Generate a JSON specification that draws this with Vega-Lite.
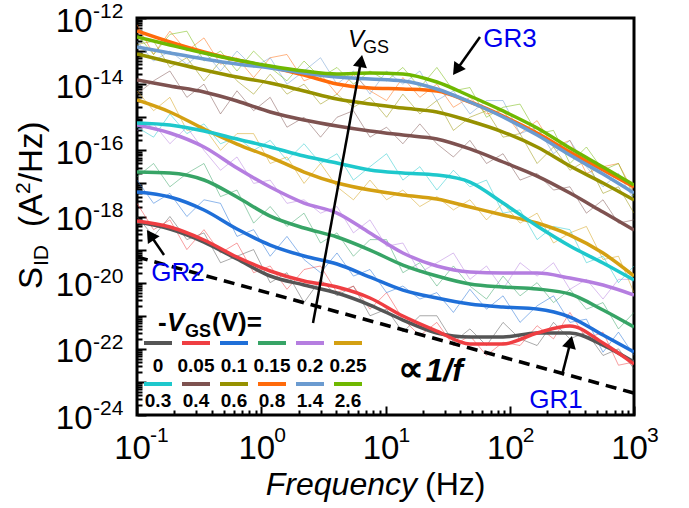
{
"$schema": "https://vega.github.io/schema/vega-lite/v6.json",
"width": 497, "height": 397,
"autosize": {"type": "none"},
"padding": {"left": 137, "top": 18, "right": 55, "bottom": 93},
"background": "white",
"config": {"view": {"stroke": "black", "strokeWidth": 3}, "font": "Liberation Sans"},
"resolve": {"axis": {"x": "independent", "y": "independent"}},
"datasets": {
"raw": [
{"V":"0","f":0.1,"S":1e-18},{"V":"0","f":0.136,"S":2.5e-19},{"V":"0","f":0.184,"S":1e-18},{"V":"0","f":0.252,"S":2e-19},{"V":"0","f":0.346,"S":3.2e-19},{"V":"0","f":0.47,"S":4e-20},{"V":"0","f":0.638,"S":6.3e-20},{"V":"0","f":0.868,"S":1e-19},{"V":"0","f":1.18,"S":1e-20},{"V":"0","f":1.61,"S":2e-20},{"V":"0","f":2.21,"S":2.5e-21},{"V":"0","f":3.0,"S":1.26e-20},{"V":"0","f":4.07,"S":4e-21},{"V":"0","f":5.52,"S":7.9e-21},{"V":"0","f":7.5,"S":1e-21},{"V":"0","f":10.2,"S":1.58e-21},{"V":"0","f":13.8,"S":3.2e-22},{"V":"0","f":18.9,"S":1e-21},{"V":"0","f":25.9,"S":1e-21},{"V":"0","f":35.2,"S":1.58e-22},{"V":"0","f":47.8,"S":4e-22},{"V":"0","f":65,"S":1.26e-22},{"V":"0","f":88.3,"S":6.3e-22},{"V":"0","f":121,"S":2e-22},{"V":"0","f":166,"S":1.26e-22},{"V":"0","f":225,"S":6.3e-22},{"V":"0","f":305,"S":2e-22},{"V":"0","f":414,"S":3.2e-22},{"V":"0","f":563,"S":6.3e-23},{"V":"0","f":750,"S":1e-22},{"V":"0","f":1000,"S":2.5e-23},
{"V":"0.05","f":0.1,"S":2.5e-18},{"V":"0.05","f":0.136,"S":4e-19},{"V":"0.05","f":0.184,"S":7.9e-19},{"V":"0.05","f":0.252,"S":1e-19},{"V":"0.05","f":0.346,"S":4e-19},{"V":"0.05","f":0.47,"S":7.9e-20},{"V":"0.05","f":0.638,"S":1.58e-19},{"V":"0.05","f":0.868,"S":2e-20},{"V":"0.05","f":1.18,"S":3.2e-20},{"V":"0.05","f":1.61,"S":6.3e-21},{"V":"0.05","f":2.21,"S":2.5e-20},{"V":"0.05","f":3.0,"S":3.2e-20},{"V":"0.05","f":4.07,"S":5e-21},{"V":"0.05","f":5.52,"S":7.9e-21},{"V":"0.05","f":7.5,"S":1.58e-21},{"V":"0.05","f":10.2,"S":5e-21},{"V":"0.05","f":13.8,"S":7.9e-22},{"V":"0.05","f":18.9,"S":2.5e-22},{"V":"0.05","f":25.9,"S":6.3e-22},{"V":"0.05","f":35.2,"S":1.26e-22},{"V":"0.05","f":47.8,"S":2.5e-22},{"V":"0.05","f":65,"S":6.3e-23},{"V":"0.05","f":88.3,"S":1.58e-22},{"V":"0.05","f":121,"S":1.26e-22},{"V":"0.05","f":166,"S":5e-22},{"V":"0.05","f":225,"S":2e-22},{"V":"0.05","f":305,"S":1.26e-21},{"V":"0.05","f":414,"S":2e-22},{"V":"0.05","f":563,"S":3.2e-22},{"V":"0.05","f":750,"S":3.2e-23},{"V":"0.05","f":1000,"S":4e-23},
{"V":"0.1","f":0.1,"S":1.26e-17},{"V":"0.1","f":0.136,"S":2.5e-18},{"V":"0.1","f":0.184,"S":5e-18},{"V":"0.1","f":0.252,"S":1e-18},{"V":"0.1","f":0.346,"S":3.2e-18},{"V":"0.1","f":0.47,"S":2.5e-18},{"V":"0.1","f":0.638,"S":2.5e-19},{"V":"0.1","f":0.868,"S":4e-19},{"V":"0.1","f":1.18,"S":6.3e-20},{"V":"0.1","f":1.61,"S":2.5e-19},{"V":"0.1","f":2.21,"S":5e-20},{"V":"0.1","f":3.0,"S":2e-20},{"V":"0.1","f":4.07,"S":7.9e-20},{"V":"0.1","f":5.52,"S":1.58e-20},{"V":"0.1","f":7.5,"S":2.5e-20},{"V":"0.1","f":10.2,"S":5e-21},{"V":"0.1","f":13.8,"S":7.9e-21},{"V":"0.1","f":18.9,"S":3.2e-21},{"V":"0.1","f":25.9,"S":5e-21},{"V":"0.1","f":35.2,"S":1.26e-21},{"V":"0.1","f":47.8,"S":6.3e-21},{"V":"0.1","f":65,"S":1.58e-21},{"V":"0.1","f":88.3,"S":4e-21},{"V":"0.1","f":121,"S":6.3e-22},{"V":"0.1","f":166,"S":2e-21},{"V":"0.1","f":225,"S":4e-21},{"V":"0.1","f":305,"S":6.3e-22},{"V":"0.1","f":414,"S":7.9e-22},{"V":"0.1","f":563,"S":7.9e-23},{"V":"0.1","f":750,"S":3.2e-22},{"V":"0.1","f":1000,"S":6.3e-23},
{"V":"0.15","f":0.1,"S":1.58e-17},{"V":"0.15","f":0.136,"S":4e-17},{"V":"0.15","f":0.184,"S":7.9e-18},{"V":"0.15","f":0.252,"S":2e-17},{"V":"0.15","f":0.346,"S":4e-17},{"V":"0.15","f":0.47,"S":4e-18},{"V":"0.15","f":0.638,"S":6.3e-18},{"V":"0.15","f":0.868,"S":6.3e-19},{"V":"0.15","f":1.18,"S":2e-18},{"V":"0.15","f":1.61,"S":5e-19},{"V":"0.15","f":2.21,"S":1.26e-18},{"V":"0.15","f":3.0,"S":1.58e-19},{"V":"0.15","f":4.07,"S":3.2e-19},{"V":"0.15","f":5.52,"S":6.3e-20},{"V":"0.15","f":7.5,"S":2e-19},{"V":"0.15","f":10.2,"S":2e-19},{"V":"0.15","f":13.8,"S":2e-20},{"V":"0.15","f":18.9,"S":4e-20},{"V":"0.15","f":25.9,"S":7.9e-21},{"V":"0.15","f":35.2,"S":3.2e-20},{"V":"0.15","f":47.8,"S":7.9e-21},{"V":"0.15","f":65,"S":3.2e-21},{"V":"0.15","f":88.3,"S":1.58e-20},{"V":"0.15","f":121,"S":4e-21},{"V":"0.15","f":166,"S":1e-20},{"V":"0.15","f":225,"S":2.5e-21},{"V":"0.15","f":305,"S":6.3e-21},{"V":"0.15","f":414,"S":1.58e-21},{"V":"0.15","f":563,"S":2.5e-21},{"V":"0.15","f":750,"S":4e-22},{"V":"0.15","f":1000,"S":1.26e-21},
{"V":"0.2","f":0.1,"S":4e-16},{"V":"0.2","f":0.136,"S":6.3e-16},{"V":"0.2","f":0.184,"S":1.58e-16},{"V":"0.2","f":0.252,"S":5e-16},{"V":"0.2","f":0.346,"S":1e-16},{"V":"0.2","f":0.47,"S":2.5e-17},{"V":"0.2","f":0.638,"S":6.3e-17},{"V":"0.2","f":0.868,"S":1e-17},{"V":"0.2","f":1.18,"S":1.26e-17},{"V":"0.2","f":1.61,"S":2.5e-18},{"V":"0.2","f":2.21,"S":3.2e-18},{"V":"0.2","f":3.0,"S":1.26e-18},{"V":"0.2","f":4.07,"S":2e-18},{"V":"0.2","f":5.52,"S":3.2e-19},{"V":"0.2","f":7.5,"S":7.9e-19},{"V":"0.2","f":10.2,"S":1.26e-19},{"V":"0.2","f":13.8,"S":1.58e-19},{"V":"0.2","f":18.9,"S":2e-20},{"V":"0.2","f":25.9,"S":4e-20},{"V":"0.2","f":35.2,"S":7.9e-20},{"V":"0.2","f":47.8,"S":1.26e-20},{"V":"0.2","f":65,"S":3.2e-20},{"V":"0.2","f":88.3,"S":6.3e-21},{"V":"0.2","f":121,"S":4e-20},{"V":"0.2","f":166,"S":1.58e-20},{"V":"0.2","f":225,"S":4e-20},{"V":"0.2","f":305,"S":6.3e-21},{"V":"0.2","f":414,"S":1.26e-20},{"V":"0.2","f":563,"S":3.2e-21},{"V":"0.2","f":750,"S":1.26e-20},{"V":"0.2","f":1000,"S":1.26e-20},
{"V":"0.25","f":0.1,"S":6.3e-15},{"V":"0.25","f":0.136,"S":1.58e-15},{"V":"0.25","f":0.184,"S":4e-15},{"V":"0.25","f":0.252,"S":4e-16},{"V":"0.25","f":0.346,"S":5e-16},{"V":"0.25","f":0.47,"S":1e-16},{"V":"0.25","f":0.638,"S":3.2e-16},{"V":"0.25","f":0.868,"S":3.2e-16},{"V":"0.25","f":1.18,"S":4e-17},{"V":"0.25","f":1.61,"S":6.3e-17},{"V":"0.25","f":2.21,"S":1e-17},{"V":"0.25","f":3.0,"S":4e-17},{"V":"0.25","f":4.07,"S":7.9e-18},{"V":"0.25","f":5.52,"S":3.2e-18},{"V":"0.25","f":7.5,"S":1.26e-17},{"V":"0.25","f":10.2,"S":3.2e-18},{"V":"0.25","f":13.8,"S":6.3e-18},{"V":"0.25","f":18.9,"S":2e-18},{"V":"0.25","f":25.9,"S":4e-18},{"V":"0.25","f":35.2,"S":1.58e-18},{"V":"0.25","f":47.8,"S":3.2e-18},{"V":"0.25","f":65,"S":7.9e-19},{"V":"0.25","f":88.3,"S":2.5e-18},{"V":"0.25","f":121,"S":6.3e-19},{"V":"0.25","f":166,"S":1.26e-18},{"V":"0.25","f":225,"S":1.58e-19},{"V":"0.25","f":305,"S":3.2e-19},{"V":"0.25","f":414,"S":5e-19},{"V":"0.25","f":563,"S":5e-20},{"V":"0.25","f":750,"S":6.3e-20},{"V":"0.25","f":1000,"S":5e-21},
{"V":"0.3","f":0.1,"S":5e-16},{"V":"0.3","f":0.136,"S":2.5e-16},{"V":"0.3","f":0.184,"S":1.26e-15},{"V":"0.3","f":0.252,"S":3.2e-16},{"V":"0.3","f":0.346,"S":6.3e-16},{"V":"0.3","f":0.47,"S":1.58e-16},{"V":"0.3","f":0.638,"S":2.5e-16},{"V":"0.3","f":0.868,"S":1e-16},{"V":"0.3","f":1.18,"S":2e-16},{"V":"0.3","f":1.61,"S":5e-17},{"V":"0.3","f":2.21,"S":1.58e-16},{"V":"0.3","f":3.0,"S":4e-17},{"V":"0.3","f":4.07,"S":7.9e-17},{"V":"0.3","f":5.52,"S":1.26e-17},{"V":"0.3","f":7.5,"S":3.2e-17},{"V":"0.3","f":10.2,"S":7.9e-17},{"V":"0.3","f":13.8,"S":1.26e-17},{"V":"0.3","f":18.9,"S":3.2e-17},{"V":"0.3","f":25.9,"S":6.3e-18},{"V":"0.3","f":35.2,"S":2.5e-17},{"V":"0.3","f":47.8,"S":7.9e-18},{"V":"0.3","f":65,"S":1.26e-17},{"V":"0.3","f":88.3,"S":1.26e-18},{"V":"0.3","f":121,"S":1.58e-18},{"V":"0.3","f":166,"S":2e-19},{"V":"0.3","f":225,"S":5e-19},{"V":"0.3","f":305,"S":4e-19},{"V":"0.3","f":414,"S":4e-20},{"V":"0.3","f":563,"S":6.3e-20},{"V":"0.3","f":750,"S":1e-20},{"V":"0.3","f":1000,"S":3.2e-20},
{"V":"0.4","f":0.1,"S":5e-15},{"V":"0.4","f":0.136,"S":1.26e-14},{"V":"0.4","f":0.184,"S":2.5e-14},{"V":"0.4","f":0.252,"S":4e-15},{"V":"0.4","f":0.346,"S":1e-14},{"V":"0.4","f":0.47,"S":1.26e-15},{"V":"0.4","f":0.638,"S":6.3e-15},{"V":"0.4","f":0.868,"S":1.58e-15},{"V":"0.4","f":1.18,"S":4e-15},{"V":"0.4","f":1.61,"S":5e-16},{"V":"0.4","f":2.21,"S":1e-15},{"V":"0.4","f":3.0,"S":2.5e-16},{"V":"0.4","f":4.07,"S":1e-15},{"V":"0.4","f":5.52,"S":1.58e-15},{"V":"0.4","f":7.5,"S":2.5e-16},{"V":"0.4","f":10.2,"S":5e-16},{"V":"0.4","f":13.8,"S":1.58e-16},{"V":"0.4","f":18.9,"S":6.3e-16},{"V":"0.4","f":25.9,"S":1.58e-16},{"V":"0.4","f":35.2,"S":6.3e-17},{"V":"0.4","f":47.8,"S":2e-16},{"V":"0.4","f":65,"S":4e-17},{"V":"0.4","f":88.3,"S":7.9e-17},{"V":"0.4","f":121,"S":1.26e-17},{"V":"0.4","f":166,"S":2e-17},{"V":"0.4","f":225,"S":6.3e-18},{"V":"0.4","f":305,"S":7.9e-18},{"V":"0.4","f":414,"S":1.26e-18},{"V":"0.4","f":563,"S":3.2e-18},{"V":"0.4","f":750,"S":6.3e-19},{"V":"0.4","f":1000,"S":7.9e-19},
{"V":"0.6","f":0.1,"S":1.58e-13},{"V":"0.6","f":0.136,"S":2e-13},{"V":"0.6","f":0.184,"S":3.2e-14},{"V":"0.6","f":0.252,"S":6.3e-14},{"V":"0.6","f":0.346,"S":1.26e-14},{"V":"0.6","f":0.47,"S":5e-14},{"V":"0.6","f":0.638,"S":1.26e-14},{"V":"0.6","f":0.868,"S":5e-15},{"V":"0.6","f":1.18,"S":2e-14},{"V":"0.6","f":1.61,"S":5e-15},{"V":"0.6","f":2.21,"S":1e-14},{"V":"0.6","f":3.0,"S":2.5e-15},{"V":"0.6","f":4.07,"S":5e-15},{"V":"0.6","f":5.52,"S":2e-15},{"V":"0.6","f":7.5,"S":4e-15},{"V":"0.6","f":10.2,"S":1e-15},{"V":"0.6","f":13.8,"S":5e-15},{"V":"0.6","f":18.9,"S":1.26e-15},{"V":"0.6","f":25.9,"S":3.2e-15},{"V":"0.6","f":35.2,"S":4e-16},{"V":"0.6","f":47.8,"S":1e-15},{"V":"0.6","f":65,"S":1.58e-15},{"V":"0.6","f":88.3,"S":2.5e-16},{"V":"0.6","f":121,"S":3.2e-16},{"V":"0.6","f":166,"S":4e-17},{"V":"0.6","f":225,"S":1.26e-16},{"V":"0.6","f":305,"S":2.5e-17},{"V":"0.6","f":414,"S":5e-17},{"V":"0.6","f":563,"S":5e-18},{"V":"0.6","f":750,"S":7.9e-18},{"V":"0.6","f":1000,"S":1.26e-18},
{"V":"0.8","f":0.1,"S":6.3e-13},{"V":"0.8","f":0.136,"S":7.9e-14},{"V":"0.8","f":0.184,"S":4e-13},{"V":"0.8","f":0.252,"S":1e-13},{"V":"0.8","f":0.346,"S":2.5e-13},{"V":"0.8","f":0.47,"S":4e-14},{"V":"0.8","f":0.638,"S":6.3e-14},{"V":"0.8","f":0.868,"S":1.58e-14},{"V":"0.8","f":1.18,"S":6.3e-14},{"V":"0.8","f":1.61,"S":7.9e-14},{"V":"0.8","f":2.21,"S":1.26e-14},{"V":"0.8","f":3.0,"S":2e-14},{"V":"0.8","f":4.07,"S":5e-15},{"V":"0.8","f":5.52,"S":2e-14},{"V":"0.8","f":7.5,"S":6.3e-15},{"V":"0.8","f":10.2,"S":3.2e-15},{"V":"0.8","f":13.8,"S":1.58e-14},{"V":"0.8","f":18.9,"S":4e-15},{"V":"0.8","f":25.9,"S":1e-14},{"V":"0.8","f":35.2,"S":2e-15},{"V":"0.8","f":47.8,"S":4e-15},{"V":"0.8","f":65,"S":1.26e-15},{"V":"0.8","f":88.3,"S":1.58e-15},{"V":"0.8","f":121,"S":3.2e-16},{"V":"0.8","f":166,"S":7.9e-16},{"V":"0.8","f":225,"S":1.26e-16},{"V":"0.8","f":305,"S":2e-16},{"V":"0.8","f":414,"S":2e-17},{"V":"0.8","f":563,"S":3.2e-17},{"V":"0.8","f":750,"S":4e-17},{"V":"0.8","f":1000,"S":5e-18},
{"V":"1.4","f":0.1,"S":2e-13},{"V":"1.4","f":0.136,"S":5e-14},{"V":"1.4","f":0.184,"S":1e-13},{"V":"1.4","f":0.252,"S":4e-14},{"V":"1.4","f":0.346,"S":1e-13},{"V":"1.4","f":0.47,"S":2.5e-14},{"V":"1.4","f":0.638,"S":1e-13},{"V":"1.4","f":0.868,"S":3.2e-14},{"V":"1.4","f":1.18,"S":6.3e-14},{"V":"1.4","f":1.61,"S":1e-14},{"V":"1.4","f":2.21,"S":2.5e-14},{"V":"1.4","f":3.0,"S":6.3e-14},{"V":"1.4","f":4.07,"S":1e-14},{"V":"1.4","f":5.52,"S":2.5e-14},{"V":"1.4","f":7.5,"S":5e-15},{"V":"1.4","f":10.2,"S":2.5e-14},{"V":"1.4","f":13.8,"S":1e-14},{"V":"1.4","f":18.9,"S":2.5e-14},{"V":"1.4","f":25.9,"S":3.2e-15},{"V":"1.4","f":35.2,"S":6.3e-15},{"V":"1.4","f":47.8,"S":1.26e-15},{"V":"1.4","f":65,"S":3.2e-15},{"V":"1.4","f":88.3,"S":3.2e-15},{"V":"1.4","f":121,"S":3.2e-16},{"V":"1.4","f":166,"S":5e-16},{"V":"1.4","f":225,"S":7.9e-17},{"V":"1.4","f":305,"S":2e-16},{"V":"1.4","f":414,"S":3.2e-17},{"V":"1.4","f":563,"S":7.9e-18},{"V":"1.4","f":750,"S":2e-17},{"V":"1.4","f":1000,"S":3.2e-18},
{"V":"2.6","f":0.1,"S":3.2e-13},{"V":"2.6","f":0.136,"S":7.9e-14},{"V":"2.6","f":0.184,"S":3.2e-13},{"V":"2.6","f":0.252,"S":4e-13},{"V":"2.6","f":0.346,"S":5e-14},{"V":"2.6","f":0.47,"S":1e-13},{"V":"2.6","f":0.638,"S":2.5e-14},{"V":"2.6","f":0.868,"S":1e-13},{"V":"2.6","f":1.18,"S":3.2e-14},{"V":"2.6","f":1.61,"S":1.26e-14},{"V":"2.6","f":2.21,"S":5e-14},{"V":"2.6","f":3.0,"S":1.58e-14},{"V":"2.6","f":4.07,"S":3.2e-14},{"V":"2.6","f":5.52,"S":1e-14},{"V":"2.6","f":7.5,"S":2.5e-14},{"V":"2.6","f":10.2,"S":1.26e-14},{"V":"2.6","f":13.8,"S":3.2e-14},{"V":"2.6","f":18.9,"S":7.9e-15},{"V":"2.6","f":25.9,"S":3.2e-14},{"V":"2.6","f":35.2,"S":6.3e-15},{"V":"2.6","f":47.8,"S":7.9e-15},{"V":"2.6","f":65,"S":1e-15},{"V":"2.6","f":88.3,"S":2e-15},{"V":"2.6","f":121,"S":2.5e-15},{"V":"2.6","f":166,"S":3.2e-16},{"V":"2.6","f":225,"S":4e-16},{"V":"2.6","f":305,"S":4e-17},{"V":"2.6","f":414,"S":1.26e-16},{"V":"2.6","f":563,"S":2.5e-17},{"V":"2.6","f":750,"S":4e-17},{"V":"2.6","f":1000,"S":4e-18}
],
"smooth": [
{"V":"0","f":0.1,"S":6.81e-19},{"V":"0","f":0.184,"S":4.18e-19},{"V":"0","f":0.346,"S":1.69e-19},{"V":"0","f":0.638,"S":5.19e-20},{"V":"0","f":1.18,"S":1.59e-20},{"V":"0","f":2.21,"S":8.49e-21},{"V":"0","f":4.07,"S":4.86e-21},{"V":"0","f":7.5,"S":2.11e-21},{"V":"0","f":13.8,"S":7.43e-22},{"V":"0","f":25.9,"S":3.01e-22},{"V":"0","f":47.8,"S":2.28e-22},{"V":"0","f":88.3,"S":2.28e-22},{"V":"0","f":166,"S":3.01e-22},{"V":"0","f":305,"S":3.01e-22},{"V":"0","f":563,"S":1.30e-22},{"V":"0","f":1000,"S":3.98e-23},
{"V":"0.05","f":0.1,"S":7.29e-19},{"V":"0.05","f":0.184,"S":4.81e-19},{"V":"0.05","f":0.346,"S":1.95e-19},{"V":"0.05","f":0.638,"S":5.96e-20},{"V":"0.05","f":1.18,"S":2.25e-20},{"V":"0.05","f":2.21,"S":1.12e-20},{"V":"0.05","f":4.07,"S":7.38e-21},{"V":"0.05","f":7.5,"S":3.44e-21},{"V":"0.05","f":13.8,"S":9.79e-22},{"V":"0.05","f":25.9,"S":3.45e-22},{"V":"0.05","f":47.8,"S":1.40e-22},{"V":"0.05","f":88.3,"S":1.40e-22},{"V":"0.05","f":166,"S":3.01e-22},{"V":"0.05","f":305,"S":4.89e-22},{"V":"0.05","f":563,"S":1.50e-22},{"V":"0.05","f":1000,"S":3.47e-23},
{"V":"0.1","f":0.1,"S":5.50e-18},{"V":"0.1","f":0.184,"S":3.88e-18},{"V":"0.1","f":0.346,"S":1.57e-18},{"V":"0.1","f":0.638,"S":4.18e-19},{"V":"0.1","f":1.18,"S":1.37e-19},{"V":"0.1","f":2.21,"S":6.38e-20},{"V":"0.1","f":4.07,"S":3.66e-20},{"V":"0.1","f":7.5,"S":1.48e-20},{"V":"0.1","f":13.8,"S":5.98e-21},{"V":"0.1","f":25.9,"S":3.44e-21},{"V":"0.1","f":47.8,"S":2.26e-21},{"V":"0.1","f":88.3,"S":1.83e-21},{"V":"0.1","f":166,"S":1.60e-21},{"V":"0.1","f":305,"S":9.14e-22},{"V":"0.1","f":563,"S":2.61e-22},{"V":"0.1","f":1000,"S":8.00e-23},
{"V":"0.15","f":0.1,"S":2.21e-17},{"V":"0.15","f":0.184,"S":2.06e-17},{"V":"0.15","f":0.346,"S":1.27e-17},{"V":"0.15","f":0.638,"S":3.88e-18},{"V":"0.15","f":1.18,"S":1.03e-18},{"V":"0.15","f":2.21,"S":4.49e-19},{"V":"0.15","f":4.07,"S":2.40e-19},{"V":"0.15","f":7.5,"S":9.70e-20},{"V":"0.15","f":13.8,"S":3.41e-20},{"V":"0.15","f":25.9,"S":1.59e-20},{"V":"0.15","f":47.8,"S":9.10e-21},{"V":"0.15","f":88.3,"S":7.38e-21},{"V":"0.15","f":166,"S":6.43e-21},{"V":"0.15","f":305,"S":4.54e-21},{"V":"0.15","f":563,"S":1.49e-21},{"V":"0.15","f":1000,"S":4.56e-22},
{"V":"0.2","f":0.1,"S":5.82e-16},{"V":"0.2","f":0.184,"S":3.34e-16},{"V":"0.2","f":0.346,"S":1.26e-16},{"V":"0.2","f":0.638,"S":2.92e-17},{"V":"0.2","f":1.18,"S":7.78e-18},{"V":"0.2","f":2.21,"S":2.55e-18},{"V":"0.2","f":4.07,"S":1.27e-18},{"V":"0.2","f":7.5,"S":3.17e-19},{"V":"0.2","f":13.8,"S":7.87e-20},{"V":"0.2","f":25.9,"S":3.18e-20},{"V":"0.2","f":47.8,"S":2.10e-20},{"V":"0.2","f":88.3,"S":1.95e-20},{"V":"0.2","f":166,"S":1.95e-20},{"V":"0.2","f":305,"S":1.38e-20},{"V":"0.2","f":563,"S":8.49e-21},{"V":"0.2","f":1000,"S":4.23e-21},
{"V":"0.25","f":0.1,"S":3.32e-15},{"V":"0.25","f":0.184,"S":1.44e-15},{"V":"0.25","f":0.346,"S":4.41e-16},{"V":"0.25","f":0.638,"S":1.55e-16},{"V":"0.25","f":1.18,"S":6.28e-17},{"V":"0.25","f":2.21,"S":2.21e-17},{"V":"0.25","f":4.07,"S":1.03e-17},{"V":"0.25","f":7.5,"S":6.31e-18},{"V":"0.25","f":13.8,"S":4.46e-18},{"V":"0.25","f":25.9,"S":3.37e-18},{"V":"0.25","f":47.8,"S":1.94e-18},{"V":"0.25","f":88.3,"S":1.11e-18},{"V":"0.25","f":166,"S":6.35e-19},{"V":"0.25","f":305,"S":2.75e-19},{"V":"0.25","f":563,"S":7.87e-20},{"V":"0.25","f":1000,"S":1.59e-20},
{"V":"0.3","f":0.1,"S":6.70e-16},{"V":"0.3","f":0.184,"S":5.82e-16},{"V":"0.3","f":0.346,"S":3.84e-16},{"V":"0.3","f":0.638,"S":2.20e-16},{"V":"0.3","f":1.18,"S":1.26e-16},{"V":"0.3","f":2.21,"S":6.73e-17},{"V":"0.3","f":4.07,"S":4.14e-17},{"V":"0.3","f":7.5,"S":2.54e-17},{"V":"0.3","f":13.8,"S":2.06e-17},{"V":"0.3","f":25.9,"S":1.79e-17},{"V":"0.3","f":47.8,"S":1.10e-17},{"V":"0.3","f":88.3,"S":2.55e-18},{"V":"0.3","f":166,"S":5.15e-19},{"V":"0.3","f":305,"S":1.28e-19},{"V":"0.3","f":563,"S":3.93e-20},{"V":"0.3","f":1000,"S":1.20e-20},
{"V":"0.4","f":0.1,"S":1.34e-14},{"V":"0.4","f":0.184,"S":8.79e-15},{"V":"0.4","f":0.346,"S":5.79e-15},{"V":"0.4","f":0.638,"S":3.10e-15},{"V":"0.4","f":1.18,"S":1.44e-15},{"V":"0.4","f":2.21,"S":8.26e-16},{"V":"0.4","f":4.07,"S":5.43e-16},{"V":"0.4","f":7.5,"S":3.84e-16},{"V":"0.4","f":13.8,"S":2.90e-16},{"V":"0.4","f":25.9,"S":2.20e-16},{"V":"0.4","f":47.8,"S":1.10e-16},{"V":"0.4","f":88.3,"S":4.44e-17},{"V":"0.4","f":166,"S":1.67e-17},{"V":"0.4","f":305,"S":5.13e-18},{"V":"0.4","f":563,"S":1.36e-18},{"V":"0.4","f":1000,"S":3.90e-19},
{"V":"0.6","f":0.1,"S":8.17e-14},{"V":"0.6","f":0.184,"S":4.68e-14},{"V":"0.6","f":0.346,"S":2.68e-14},{"V":"0.6","f":0.638,"S":1.64e-14},{"V":"0.6","f":1.18,"S":1.08e-14},{"V":"0.6","f":2.21,"S":6.21e-15},{"V":"0.6","f":4.07,"S":3.56e-15},{"V":"0.6","f":7.5,"S":2.51e-15},{"V":"0.6","f":13.8,"S":1.90e-15},{"V":"0.6","f":25.9,"S":1.44e-15},{"V":"0.6","f":47.8,"S":7.69e-16},{"V":"0.6","f":88.3,"S":3.58e-16},{"V":"0.6","f":166,"S":1.26e-16},{"V":"0.6","f":305,"S":3.36e-17},{"V":"0.6","f":563,"S":1.03e-17},{"V":"0.6","f":1000,"S":3.15e-18},
{"V":"0.8","f":0.1,"S":4.05e-13},{"V":"0.8","f":0.184,"S":1.88e-13},{"V":"0.8","f":0.346,"S":9.38e-14},{"V":"0.8","f":0.638,"S":5.37e-14},{"V":"0.8","f":1.18,"S":3.30e-14},{"V":"0.8","f":2.21,"S":1.89e-14},{"V":"0.8","f":4.07,"S":1.01e-14},{"V":"0.8","f":7.5,"S":7.66e-15},{"V":"0.8","f":13.8,"S":7.14e-15},{"V":"0.8","f":25.9,"S":6.21e-15},{"V":"0.8","f":47.8,"S":2.89e-15},{"V":"0.8","f":88.3,"S":1.09e-15},{"V":"0.8","f":166,"S":3.34e-16},{"V":"0.8","f":305,"S":8.89e-17},{"V":"0.8","f":563,"S":2.54e-17},{"V":"0.8","f":1000,"S":7.78e-18},
{"V":"1.4","f":0.1,"S":1.33e-13},{"V":"1.4","f":0.184,"S":8.75e-14},{"V":"1.4","f":0.346,"S":5.77e-14},{"V":"1.4","f":0.638,"S":4.06e-14},{"V":"1.4","f":1.18,"S":3.08e-14},{"V":"1.4","f":2.21,"S":2.17e-14},{"V":"1.4","f":4.07,"S":1.64e-14},{"V":"1.4","f":7.5,"S":1.43e-14},{"V":"1.4","f":13.8,"S":1.25e-14},{"V":"1.4","f":25.9,"S":7.14e-15},{"V":"1.4","f":47.8,"S":2.89e-15},{"V":"1.4","f":88.3,"S":1.02e-15},{"V":"1.4","f":166,"S":2.90e-16},{"V":"1.4","f":305,"S":7.21e-17},{"V":"1.4","f":563,"S":1.92e-17},{"V":"1.4","f":1000,"S":5.13e-18},
{"V":"2.6","f":0.1,"S":2.67e-13},{"V":"2.6","f":0.184,"S":1.53e-13},{"V":"2.6","f":0.346,"S":8.75e-14},{"V":"2.6","f":0.638,"S":5.37e-14},{"V":"2.6","f":1.18,"S":3.54e-14},{"V":"2.6","f":2.21,"S":2.50e-14},{"V":"2.6","f":4.07,"S":2.03e-14},{"V":"2.6","f":7.5,"S":2.17e-14},{"V":"2.6","f":13.8,"S":2.03e-14},{"V":"2.6","f":25.9,"S":1.16e-14},{"V":"2.6","f":47.8,"S":4.39e-15},{"V":"2.6","f":88.3,"S":1.55e-15},{"V":"2.6","f":166,"S":4.73e-16},{"V":"2.6","f":305,"S":1.17e-16},{"V":"2.6","f":563,"S":3.13e-17},{"V":"2.6","f":1000,"S":8.95e-18}
],
"oneoverf": [{"f":0.1,"S":5.96e-20},{"f":1000,"S":4.61e-24}],
"xexp": [{"v":0.1,"e":"-1"},{"v":1,"e":"0"},{"v":10,"e":"1"},{"v":100,"e":"2"},{"v":1000,"e":"3"}],
"yexp": [{"v":1e-12,"e":"-12"},{"v":1e-14,"e":"-14"},{"v":1e-16,"e":"-16"},{"v":1e-18,"e":"-18"},{"v":1e-20,"e":"-20"},{"v":1e-22,"e":"-22"},{"v":1e-24,"e":"-24"}]
},
"layer": [
{"data": {"name": "raw"},
 "mark": {"type": "line", "strokeWidth": 1, "opacity": 0.5, "clip": true},
 "encoding": {
  "x": {"field": "f", "type": "quantitative", "scale": {"type": "log", "domain": [0.1, 1000], "nice": false}, "axis": null},
  "y": {"field": "S", "type": "quantitative", "scale": {"type": "log", "domain": [1e-24, 1e-12], "nice": false}, "axis": null},
  "color": {"field": "V", "type": "nominal",
   "scale": {"domain": ["0","0.05","0.1","0.15","0.2","0.25","0.3","0.4","0.6","0.8","1.4","2.6"],
    "range": ["#555555","#ef3e42","#1f6fd8","#37a466","#b57ee0","#d4a012","#1ec8cc","#7e5250","#969100","#ff6a0a","#6b9bd0","#6fb800"]},
   "legend": {"orient": "none", "legendX": 5, "legendY": 321, "columns": 6, "title": null, "direction": "horizontal",
    "symbolType": "stroke", "symbolStrokeWidth": 4, "symbolSize": 784, "symbolOffset": 0, "symbolOpacity": 1,
    "labelFontSize": 19, "labelFontWeight": "bold", "labelColor": "black", "labelAlign": "center", "labelOffset": -16, "labelBaseline": "middle",
    "columnPadding": -8, "rowPadding": 0, "padding": 0,
    "encode": {"labels": {"update": {"dy": {"signal": "datum.index < 6 ? 11 : 5"}}}, "symbols": {"update": {"y": {"value": 4}}}}}}
 }},
{"data": {"name": "oneoverf"},
 "mark": {"type": "line", "color": "black", "strokeWidth": 3.5, "strokeDash": [11, 7]},
 "encoding": {
  "x": {"field": "f", "type": "quantitative", "scale": {"type": "log", "domain": [0.1, 1000], "nice": false},
   "axis": {"orient": "bottom", "title": null, "domain": false, "grid": false, "values": [0.1,1,10,100,1000],
    "labelExpr": "'10'", "labelOffset": -5,
    "tickSize": -9, "tickColor": "black", "tickWidth": 2, "labelFontSize": 33, "labelColor": "black", "labelPadding": 26, "labelFlush": false, "labelOverlap": false}},
  "y": {"field": "S", "type": "quantitative", "scale": {"type": "log", "domain": [1e-24, 1e-12], "nice": false},
   "axis": {"orient": "left", "title": null, "domain": false, "grid": false, "values": [1e-24,1e-23,1e-22,1e-21,1e-20,1e-19,1e-18,1e-17,1e-16,1e-15,1e-14,1e-13,1e-12],
    "labelExpr": "(datum.value==1e-12||datum.value==1e-14||datum.value==1e-16||datum.value==1e-18||datum.value==1e-20||datum.value==1e-22||datum.value==1e-24)?'10':''",
    "labelOffset": 3,
    "tickSize": -9, "tickColor": "black", "tickWidth": 2, "labelFontSize": 33, "labelColor": "black", "labelPadding": 54, "labelFlush": false, "labelOverlap": false}}
 }},
{"data": {"name": "smooth"},
 "mark": {"type": "line", "strokeWidth": 3.5, "interpolate": "monotone", "clip": true},
 "encoding": {
  "x": {"field": "f", "type": "quantitative", "scale": {"type": "log", "domain": [0.1, 1000], "nice": false},
   "axis": {"orient": "bottom", "title": null, "domain": false, "grid": false, "labels": false,
    "values": [0.2,0.3,0.4,0.5,0.6,0.7,0.8,0.9,2,3,4,5,6,7,8,9,20,30,40,50,60,70,80,90,200,300,400,500,600,700,800,900],
    "tickSize": -5, "tickColor": "black", "tickWidth": 2}},
  "y": {"field": "S", "type": "quantitative", "scale": {"type": "log", "domain": [1e-24, 1e-12], "nice": false},
   "axis": {"orient": "left", "title": null, "domain": false, "grid": false, "labels": false,
    "values": [2e-24,3e-24,4e-24,5e-24,6e-24,7e-24,8e-24,9e-24,2e-23,3e-23,4e-23,5e-23,6e-23,7e-23,8e-23,9e-23,2e-22,3e-22,4e-22,5e-22,6e-22,7e-22,8e-22,9e-22,2e-21,3e-21,4e-21,5e-21,6e-21,7e-21,8e-21,9e-21,2e-20,3e-20,4e-20,5e-20,6e-20,7e-20,8e-20,9e-20,2e-19,3e-19,4e-19,5e-19,6e-19,7e-19,8e-19,9e-19,2e-18,3e-18,4e-18,5e-18,6e-18,7e-18,8e-18,9e-18,2e-17,3e-17,4e-17,5e-17,6e-17,7e-17,8e-17,9e-17,2e-16,3e-16,4e-16,5e-16,6e-16,7e-16,8e-16,9e-16,2e-15,3e-15,4e-15,5e-15,6e-15,7e-15,8e-15,9e-15,2e-14,3e-14,4e-14,5e-14,6e-14,7e-14,8e-14,9e-14,2e-13,3e-13,4e-13,5e-13,6e-13,7e-13,8e-13,9e-13],
    "tickSize": -5, "tickColor": "black", "tickWidth": 2}},
  "color": {"field": "V", "type": "nominal",
   "scale": {"domain": ["0","0.05","0.1","0.15","0.2","0.25","0.3","0.4","0.6","0.8","1.4","2.6"],
    "range": ["#555555","#ef3e42","#1f6fd8","#37a466","#b57ee0","#d4a012","#1ec8cc","#7e5250","#969100","#ff6a0a","#6b9bd0","#6fb800"]},
   "legend": {"orient": "none", "legendX": 5, "legendY": 321, "columns": 6, "title": null, "direction": "horizontal",
    "symbolType": "stroke", "symbolStrokeWidth": 4, "symbolSize": 784, "symbolOffset": 0, "symbolOpacity": 1,
    "labelFontSize": 19, "labelFontWeight": "bold", "labelColor": "black", "labelAlign": "center", "labelOffset": -16, "labelBaseline": "middle",
    "columnPadding": -8, "rowPadding": 0, "padding": 0,
    "encode": {"labels": {"update": {"dy": {"signal": "datum.index < 6 ? 11 : 5"}}}, "symbols": {"update": {"y": {"value": 4}}}}}}
 }},
{"data": {"name": "xexp"}, "mark": {"type": "text", "fontSize": 21, "align": "left", "baseline": "middle", "dx": 13, "color": "black"},
 "encoding": {"x": {"field": "v", "type": "quantitative", "axis": null}, "y": {"datum": 2.31e-25, "type": "quantitative", "axis": null}, "text": {"field": "e"}}},
{"data": {"name": "yexp"}, "mark": {"type": "text", "fontSize": 21, "align": "left", "baseline": "middle", "dy": -6, "color": "black"},
 "encoding": {"x": {"datum": 0.04424, "type": "quantitative", "axis": null}, "y": {"field": "v", "type": "quantitative", "axis": null}, "text": {"field": "e"}}},
{"data": {"values": [{}]}, "mark": {"type": "text", "fontSize": 24, "fontStyle": "italic", "align": "left", "baseline": "alphabetic", "color": "black"},
 "encoding": {"x": {"datum": 4.99, "type": "quantitative", "axis": null}, "y": {"datum": 1.33e-13, "type": "quantitative", "axis": null}, "text": {"value": "V"}}},
{"data": {"values": [{}]}, "mark": {"type": "text", "fontSize": 18, "align": "left", "baseline": "alphabetic", "color": "black"},
 "encoding": {"x": {"datum": 6.59, "type": "quantitative", "axis": null}, "y": {"datum": 8.75e-14, "type": "quantitative", "axis": null}, "text": {"value": "GS"}}},
{"data": {"values": [{}]}, "mark": {"type": "text", "fontSize": 26, "align": "center", "baseline": "alphabetic", "color": "#0000ee"},
 "encoding": {"x": {"datum": 100.5, "type": "quantitative", "axis": null}, "y": {"datum": 1.33e-13, "type": "quantitative", "axis": null}, "text": {"value": "GR3"}}},
{"data": {"values": [{}]}, "mark": {"type": "text", "fontSize": 26, "align": "center", "baseline": "alphabetic", "color": "#0000ee"},
 "encoding": {"x": {"datum": 0.214, "type": "quantitative", "axis": null}, "y": {"datum": 1.12e-20, "type": "quantitative", "axis": null}, "text": {"value": "GR2"}}},
{"data": {"values": [{}]}, "mark": {"type": "text", "fontSize": 26, "align": "center", "baseline": "alphabetic", "color": "#0000ee"},
 "encoding": {"x": {"datum": 235.6, "type": "quantitative", "axis": null}, "y": {"datum": 1.62e-24, "type": "quantitative", "axis": null}, "text": {"value": "GR1"}}},
{"data": {"values": [{}]}, "mark": {"type": "text", "fontSize": 36, "fontWeight": "bold", "align": "left", "baseline": "alphabetic", "color": "black"},
 "encoding": {"x": {"datum": 12.6, "type": "quantitative", "axis": null}, "y": {"datum": 1.06e-23, "type": "quantitative", "axis": null}, "text": {"value": "∝"}}},
{"data": {"values": [{}]}, "mark": {"type": "text", "fontSize": 32, "fontStyle": "italic", "fontWeight": "bold", "align": "left", "baseline": "alphabetic", "color": "black"},
 "encoding": {"x": {"datum": 21.0, "type": "quantitative", "axis": null}, "y": {"datum": 1.06e-23, "type": "quantitative", "axis": null}, "text": {"value": "1/f"}}},
{"data": {"values": [{}]}, "mark": {"type": "text", "fontSize": 26, "fontWeight": "bold", "align": "left", "baseline": "alphabetic", "color": "black"},
 "encoding": {"x": {"datum": 0.1476, "type": "quantitative", "axis": null}, "y": {"datum": 3.45e-22, "type": "quantitative", "axis": null}, "text": {"value": "-"}}},
{"data": {"values": [{}]}, "mark": {"type": "text", "fontSize": 26, "fontWeight": "bold", "fontStyle": "italic", "align": "left", "baseline": "alphabetic", "color": "black"},
 "encoding": {"x": {"datum": 0.1743, "type": "quantitative", "axis": null}, "y": {"datum": 3.45e-22, "type": "quantitative", "axis": null}, "text": {"value": "V"}}},
{"data": {"values": [{}]}, "mark": {"type": "text", "fontSize": 18, "fontWeight": "bold", "align": "left", "baseline": "alphabetic", "color": "black"},
 "encoding": {"x": {"datum": 0.2433, "type": "quantitative", "axis": null}, "y": {"datum": 2.28e-22, "type": "quantitative", "axis": null}, "text": {"value": "GS"}}},
{"data": {"values": [{}]}, "mark": {"type": "text", "fontSize": 26, "fontWeight": "bold", "align": "left", "baseline": "alphabetic", "color": "black"},
 "encoding": {"x": {"datum": 0.4015, "type": "quantitative", "axis": null}, "y": {"datum": 3.45e-22, "type": "quantitative", "axis": null}, "text": {"value": "(V)="}}},
{"data": {"values": [{}]}, "mark": {"type": "text", "fontSize": 32, "fontStyle": "italic", "align": "right", "baseline": "alphabetic", "color": "black"},
 "encoding": {"x": {"datum": 17.93, "type": "quantitative", "axis": null}, "y": {"datum": 3.8e-27, "type": "quantitative", "axis": null}, "text": {"value": "Frequency"}}},
{"data": {"values": [{}]}, "mark": {"type": "text", "fontSize": 32, "align": "left", "baseline": "alphabetic", "color": "black"},
 "encoding": {"x": {"datum": 20.8, "type": "quantitative", "axis": null}, "y": {"datum": 3.8e-27, "type": "quantitative", "axis": null}, "text": {"value": "(Hz)"}}},
{"data": {"values": [{}]}, "mark": {"type": "text", "fontSize": 33, "angle": 270, "align": "left", "baseline": "alphabetic", "color": "black"},
 "encoding": {"x": {"datum": 0.01719, "type": "quantitative", "axis": null}, "y": {"datum": 6.43e-21, "type": "quantitative", "axis": null}, "text": {"value": "S"}}},
{"data": {"values": [{}]}, "mark": {"type": "text", "fontSize": 21, "angle": 270, "align": "left", "baseline": "alphabetic", "color": "black"},
 "encoding": {"x": {"datum": 0.01921, "type": "quantitative", "axis": null}, "y": {"datum": 3.18e-20, "type": "quantitative", "axis": null}, "text": {"value": "ID"}}},
{"data": {"values": [{}]}, "mark": {"type": "text", "fontSize": 33, "angle": 270, "align": "left", "baseline": "alphabetic", "color": "black"},
 "encoding": {"x": {"datum": 0.01719, "type": "quantitative", "axis": null}, "y": {"datum": 4.81e-19, "type": "quantitative", "axis": null}, "text": {"value": "(A"}}},
{"data": {"values": [{}]}, "mark": {"type": "text", "fontSize": 21, "angle": 270, "align": "left", "baseline": "alphabetic", "color": "black"},
 "encoding": {"x": {"datum": 0.01377, "type": "quantitative", "axis": null}, "y": {"datum": 4.79e-18, "type": "quantitative", "axis": null}, "text": {"value": "2"}}},
{"data": {"values": [{}]}, "mark": {"type": "text", "fontSize": 33, "angle": 270, "align": "left", "baseline": "alphabetic", "color": "black"},
 "encoding": {"x": {"datum": 0.01719, "type": "quantitative", "axis": null}, "y": {"datum": 1.10e-17, "type": "quantitative", "axis": null}, "text": {"value": "/Hz)"}}},
{"data": {"values": [{}]}, "mark": {"type": "rule", "strokeWidth": 2.5, "color": "black"},
 "encoding": {"x": {"datum": 2.61, "type": "quantitative", "axis": null}, "y": {"datum": 6.03e-22, "type": "quantitative", "axis": null}, "x2": {"datum": 6.35}, "y2": {"datum": 5.01e-14}}},
{"data": {"values": [{}]}, "mark": {"type": "point", "shape": "triangle-up", "filled": true, "size": 200, "color": "black", "opacity": 1, "angle": 10},
 "encoding": {"x": {"datum": 6.35, "type": "quantitative", "axis": null}, "y": {"datum": 5.01e-14, "type": "quantitative", "axis": null}}},
{"data": {"values": [{}]}, "mark": {"type": "rule", "strokeWidth": 2.5, "color": "black"},
 "encoding": {"x": {"datum": 57.6, "type": "quantitative", "axis": null}, "y": {"datum": 2.67e-13, "type": "quantitative", "axis": null}, "x2": {"datum": 37.3}, "y2": {"datum": 2.68e-14}}},
{"data": {"values": [{}]}, "mark": {"type": "point", "shape": "triangle-up", "filled": true, "size": 200, "color": "black", "opacity": 1, "angle": 215},
 "encoding": {"x": {"datum": 37.3, "type": "quantitative", "axis": null}, "y": {"datum": 2.68e-14, "type": "quantitative", "axis": null}}},
{"data": {"values": [{}]}, "mark": {"type": "rule", "strokeWidth": 2.5, "color": "black"},
 "encoding": {"x": {"datum": 0.165, "type": "quantitative", "axis": null}, "y": {"datum": 6.84e-20, "type": "quantitative", "axis": null}, "x2": {"datum": 0.128}, "y2": {"datum": 2.75e-19}}},
{"data": {"values": [{}]}, "mark": {"type": "point", "shape": "triangle-up", "filled": true, "size": 200, "color": "black", "opacity": 1, "angle": 326},
 "encoding": {"x": {"datum": 0.128, "type": "quantitative", "axis": null}, "y": {"datum": 2.75e-19, "type": "quantitative", "axis": null}}},
{"data": {"values": [{}]}, "mark": {"type": "rule", "strokeWidth": 2.5, "color": "black"},
 "encoding": {"x": {"datum": 263.4, "type": "quantitative", "axis": null}, "y": {"datum": 1.61e-23, "type": "quantitative", "axis": null}, "x2": {"datum": 308}, "y2": {"datum": 1.61e-22}}},
{"data": {"values": [{}]}, "mark": {"type": "point", "shape": "triangle-up", "filled": true, "size": 200, "color": "black", "opacity": 1, "angle": 14},
 "encoding": {"x": {"datum": 308, "type": "quantitative", "axis": null}, "y": {"datum": 1.61e-22, "type": "quantitative", "axis": null}}}
]
}
